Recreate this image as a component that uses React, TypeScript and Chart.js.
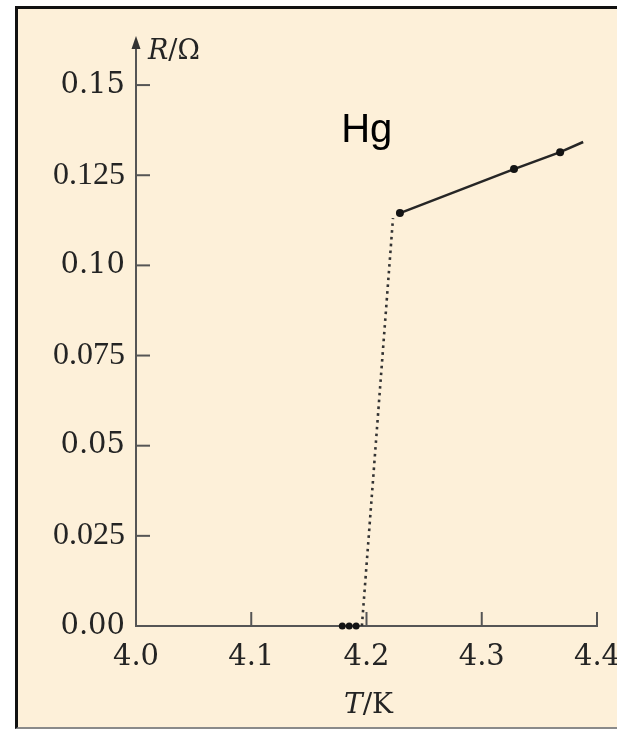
import React, { useEffect, useRef } from 'react';
import { Chart, registerables } from 'chart.js';

Chart.register(...registerables);

// ---- data ----
const zeroT = [4.179, 4.185, 4.191];
const zeroR = [0, 0, 0];
const transitionT = [4.196, 4.223];
const transitionR = [0, 0.1131];
const normalT = [4.229, 4.328, 4.368, 4.388];
const normalR = [0.1145, 0.1267, 0.1314, 0.1342];
const normalMarker = [true, true, true, false];
const xTicks = [4.0, 4.1, 4.2, 4.3, 4.4];
const xTickLabels = ['4.0', '4.1', '4.2', '4.3', '4.4'];
const yTicks = [0, 0.025, 0.05, 0.075, 0.1, 0.125, 0.15];
const yTickLabels = ['0.00', '0.025', '0.05', '0.075', '0.10', '0.125', '0.15'];
const xMin = 4.0;
const xMax = 4.4;
const yMin = 0;
const yMax = 0.1625;
const elementLabel = 'Hg';
const elementLabelT = 4.178;
const elementLabelR = 0.1342;

const AXIS = '#555';
const INK = '#141414';
const TEXT = '#242424';

const decorPlugin = {
  id: 'decor',
  afterDraw(chart: any) {
    const ctx = chart.ctx;
    const xs = chart.scales.x;
    const ys = chart.scales.y;
    const x0 = xs.getPixelForValue(xMin);
    const y0 = ys.getPixelForValue(yMin);
    ctx.save();
    ctx.strokeStyle = AXIS;
    ctx.lineWidth = 2;
    // inward ticks
    xTicks.forEach((v) => {
      if (v === xMin) return;
      const px = xs.getPixelForValue(v);
      ctx.beginPath();
      ctx.moveTo(px, y0);
      ctx.lineTo(px, y0 - 14);
      ctx.stroke();
    });
    yTicks.forEach((v) => {
      if (v === yMin) return;
      const py = ys.getPixelForValue(v);
      ctx.beginPath();
      ctx.moveTo(x0, py);
      ctx.lineTo(x0 + 14, py);
      ctx.stroke();
    });
    // arrow on y axis
    const top = ys.top;
    ctx.fillStyle = '#333';
    ctx.beginPath();
    ctx.moveTo(x0, top - 4);
    ctx.lineTo(x0 - 4.5, top + 9);
    ctx.lineTo(x0 + 4.5, top + 9);
    ctx.closePath();
    ctx.fill();

    // axis titles: R/Ω and T/K (italic symbol + roman unit)
    ctx.fillStyle = TEXT;
    ctx.textBaseline = 'alphabetic';
    ctx.textAlign = 'left';
    const italic = 'italic 27px "DejaVu Serif"';
    const roman = '27px "DejaVu Serif"';
    // R/Ω
    let tx = x0 + 12;
    const ty = top + 19;
    ctx.font = italic;
    ctx.fillText('R', tx, ty);
    tx += ctx.measureText('R').width;
    ctx.font = roman;
    ctx.fillText('/Ω', tx, ty);
    // T/K
    const italicX = 'italic 28px "DejaVu Serif"';
    const romanX = '28px "DejaVu Serif"';
    ctx.font = italicX;
    const wT = ctx.measureText('T').width;
    ctx.font = romanX;
    const wK = ctx.measureText('/K').width;
    const cx = (xs.left + xs.right) / 2 + 2;
    let kx = cx - (wT + wK) / 2;
    const ky = 713;
    ctx.font = italicX;
    ctx.fillText('T', kx, ky);
    kx += wT;
    ctx.font = romanX;
    ctx.fillText('/K', kx, ky);

    // element label
    ctx.fillStyle = '#000';
    ctx.font = '40px "Liberation Sans"';
    ctx.fillText(elementLabel, xs.getPixelForValue(elementLabelT), ys.getPixelForValue(elementLabelR));
    ctx.restore();
  },
};

export default function App() {
  const ref = useRef<HTMLCanvasElement | null>(null);

  useEffect(() => {
    if (!ref.current) return;
    const chart = new Chart(ref.current, {
      type: 'scatter',
      data: {
        datasets: [
          {
            data: zeroT.map((t, i) => ({ x: t, y: zeroR[i] })),
            showLine: false,
            pointRadius: 3.5,
            pointBackgroundColor: INK,
            pointBorderWidth: 0,
            clip: false,
          },
          {
            data: transitionT.map((t, i) => ({ x: t, y: transitionR[i] })),
            showLine: true,
            borderColor: '#333',
            borderWidth: 2.6,
            borderDash: [2.6, 4.2],
            pointRadius: 0,
            clip: false,
          },
          {
            data: normalT.map((t, i) => ({ x: t, y: normalR[i] })),
            showLine: true,
            borderColor: '#262626',
            borderWidth: 2.6,
            pointRadius: normalMarker.map((m) => (m ? 4 : 0)),
            pointBackgroundColor: INK,
            pointBorderWidth: 0,
            clip: false,
          },
        ],
      } as any,
      options: {
        animation: false,
        responsive: false,
        devicePixelRatio: 1,
        layout: { padding: { top: 40, right: 20, left: 0, bottom: 0 } },
        plugins: {
          legend: { display: false },
          tooltip: { enabled: false },
          title: { display: false },
        },
        scales: {
          x: {
            type: 'linear',
            min: xMin,
            max: xMax,
            afterBuildTicks: (s: any) => {
              s.ticks = xTicks.map((v) => ({ value: v }));
            },
            afterFit: (s: any) => {
              s.height = 103;
              s.paddingLeft = 0;
              s.paddingRight = 0;
            },
            grid: { display: true, drawOnChartArea: false, drawTicks: false },
            border: { display: true, color: AXIS, width: 2 },
            ticks: {
              autoSkip: false,
              maxRotation: 0,
              padding: 14,
              color: TEXT,
              font: { family: '"DejaVu Serif"', size: 29 },
              callback: (_v: any, i: number) => xTickLabels[i],
            },
          },
          y: {
            type: 'linear',
            min: yMin,
            max: yMax,
            afterBuildTicks: (s: any) => {
              s.ticks = yTicks.map((v) => ({ value: v }));
            },
            afterFit: (s: any) => {
              s.width = 136;
              s.paddingTop = 0;
              s.paddingBottom = 0;
            },
            grid: { display: true, drawOnChartArea: false, drawTicks: false },
            border: { display: true, color: AXIS, width: 2 },
            ticks: {
              autoSkip: false,
              padding: 11,
              color: TEXT,
              font: (c: any) => {
                const lbl = yTickLabels[c.index] || '';
                return lbl.length > 4
                  ? { family: '"Liberation Serif"', size: 32 }
                  : { family: '"DejaVu Serif"', size: 29 };
              },
              callback: (_v: any, i: number) => yTickLabels[i],
            },
          },
        },
      } as any,
      plugins: [decorPlugin],
    });
    return () => chart.destroy();
  }, []);

  return (
    <div style={{ position: 'fixed', left: 0, top: 0, width: 617, height: 729, background: '#fff', overflow: 'hidden' }}>
      <div
        style={{
          position: 'absolute',
          left: 15,
          top: 6,
          width: 640,
          height: 718,
          background: '#fdf0d9',
          borderLeft: '3px solid #111',
          borderTop: '3px solid #111',
          borderBottom: '2px solid #8a8a8a',
        }}
      />
      <canvas
        ref={ref}
        width={617}
        height={729}
        style={{ position: 'absolute', left: 0, top: 0, width: 617, height: 729 }}
      />
    </div>
  );
}
